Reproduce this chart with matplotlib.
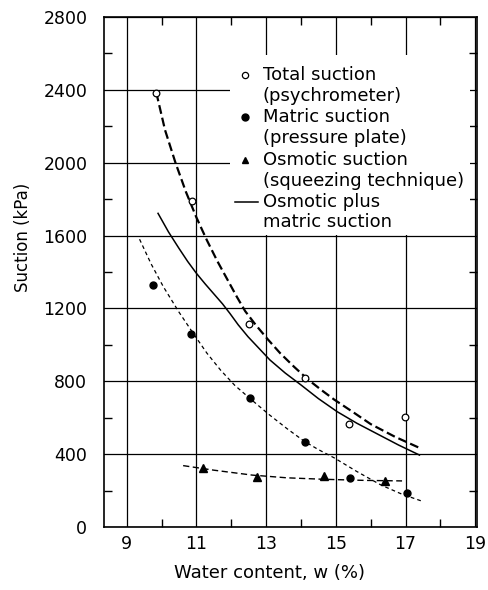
import matplotlib
matplotlib.use("Agg")
import matplotlib.pyplot as plt
from matplotlib.patches import Rectangle
from matplotlib.ticker import MultipleLocator

# measured points
total_w = [9.85, 10.88, 12.51, 14.11, 15.37, 16.99]
total_s = [2385, 1790, 1113, 816, 565, 606]
matric_w = [9.76, 10.86, 12.54, 14.12, 15.42, 17.03]
matric_s = [1329, 1060, 707, 468, 267, 188]
osm_w = [11.2, 12.73, 14.65, 16.42]
osm_s = [326, 272, 282, 250]

# fitted curves
total_fit_w = [9.85, 10.1, 10.4, 10.7, 11.0, 11.3, 11.6, 11.9, 12.16, 12.4, 12.7,
               13.05, 13.4, 13.8, 14.2, 14.6, 14.95, 15.5, 16.0, 16.7, 17.45]
total_fit_s = [2385, 2180, 2000, 1840, 1700, 1575, 1460, 1355, 1264, 1185, 1110,
               1030, 955, 880, 810, 750, 700, 630, 565, 495, 430]
sum_fit_w = [9.9, 10.2, 10.5, 10.75, 11.0, 11.25, 11.5, 11.75, 11.96, 12.2, 12.48,
             12.8, 13.11, 13.55, 14.0, 14.5, 15.04, 15.6, 16.2, 16.8, 17.4]
sum_fit_s = [1722, 1620, 1530, 1458, 1393, 1335, 1280, 1225, 1173, 1110, 1045,
             980, 917, 845, 780, 705, 633, 570, 510, 450, 395]
matric_fit_w = [9.37, 9.7, 10.05, 10.5, 10.91, 11.3, 11.7, 12.1, 12.54, 13.1, 13.6,
                14.1, 14.5, 14.95, 15.6, 16.3, 16.9, 17.5]
matric_fit_s = [1580, 1445, 1320, 1180, 1063, 955, 860, 778, 705, 615, 540,
                470, 425, 380, 305, 230, 180, 140]
osm_fit_w = [10.62, 11.5, 12.6, 13.6, 14.65, 15.8, 16.9]
osm_fit_s = [337, 312, 285, 270, 262, 256, 253]

legend_lines = ["Total suction", "(psychrometer)", "Matric suction", "(pressure plate)",
                "Osmotic suction", "(squeezing technique)", "Osmotic plus", "matric suction"]

fig = plt.figure(figsize=(4.88, 5.90), dpi=100)
ax = fig.add_axes([104/488, 63/590, 373/488, 510/590])

ax.plot(total_fit_w, total_fit_s, color="black", lw=1.6, linestyle=(0, (4, 1.8)))
ax.plot(sum_fit_w, sum_fit_s, color="black", lw=1.1)
ax.plot(matric_fit_w, matric_fit_s, color="black", lw=0.9, linestyle=(0, (3, 2.5)))
ax.plot(osm_fit_w, osm_fit_s, color="black", lw=1.0, linestyle=(0, (4.5, 2.5)))

ax.plot(total_w, total_s, "o", ms=4.8, mfc="white", mec="black", mew=0.9, zorder=3)
ax.plot(matric_w, matric_s, "o", ms=5, color="black", zorder=3)
ax.plot(osm_w, osm_s, "^", ms=5.5, color="black", zorder=3)

ax.set_xlim(8.35, 19.05)
ax.set_ylim(0, 2800)
ax.xaxis.set_major_locator(plt.FixedLocator([9, 11, 13, 15, 17, 19]))
ax.xaxis.set_minor_locator(plt.FixedLocator([10, 12, 14, 16, 18]))
ax.yaxis.set_major_locator(MultipleLocator(400))
ax.yaxis.set_minor_locator(MultipleLocator(200))
ax.grid(True, which="major", color="black", lw=0.9)
ax.tick_params(which="both", direction="in", top=True, right=True, labelsize=12.5)
ax.tick_params(which="major", length=0)
ax.tick_params(which="minor", length=6, width=1)
ax.tick_params(axis="x", pad=6)
ax.tick_params(axis="y", pad=12)
for s in ax.spines.values():
    s.set_linewidth(1.2)

# legend block with white background
ax.add_patch(Rectangle((0.338, 0.573), 0.642, 0.352, transform=ax.transAxes,
                       facecolor="white", edgecolor="none", zorder=1.8))
ys = [0.886, 0.845, 0.804, 0.763, 0.720, 0.678, 0.637, 0.598]
for t, y in zip(legend_lines, ys):
    ax.text(0.426, y, t, transform=ax.transAxes, fontsize=13, va="center", ha="left", zorder=3)
ax.plot([0.378], [ys[0]], "o", ms=4.5, mfc="white", mec="black", mew=0.9,
        transform=ax.transAxes, zorder=3)
ax.plot([0.378], [ys[2]], "o", ms=5, color="black", transform=ax.transAxes, zorder=3)
ax.plot([0.378], [ys[4]], "^", ms=5, color="black", transform=ax.transAxes, zorder=3)
ax.plot([0.350, 0.413], [ys[6], ys[6]], color="black", lw=1.1, transform=ax.transAxes, zorder=3)

fig.text(270/488, 1 - 573/590, "Water content, w (%)", fontsize=13, ha="center", va="center")
fig.text(23/488, 1 - 237/590, "Suction (kPa)", fontsize=12, rotation=90, ha="center", va="center")

fig.savefig("out.png", dpi=100)
